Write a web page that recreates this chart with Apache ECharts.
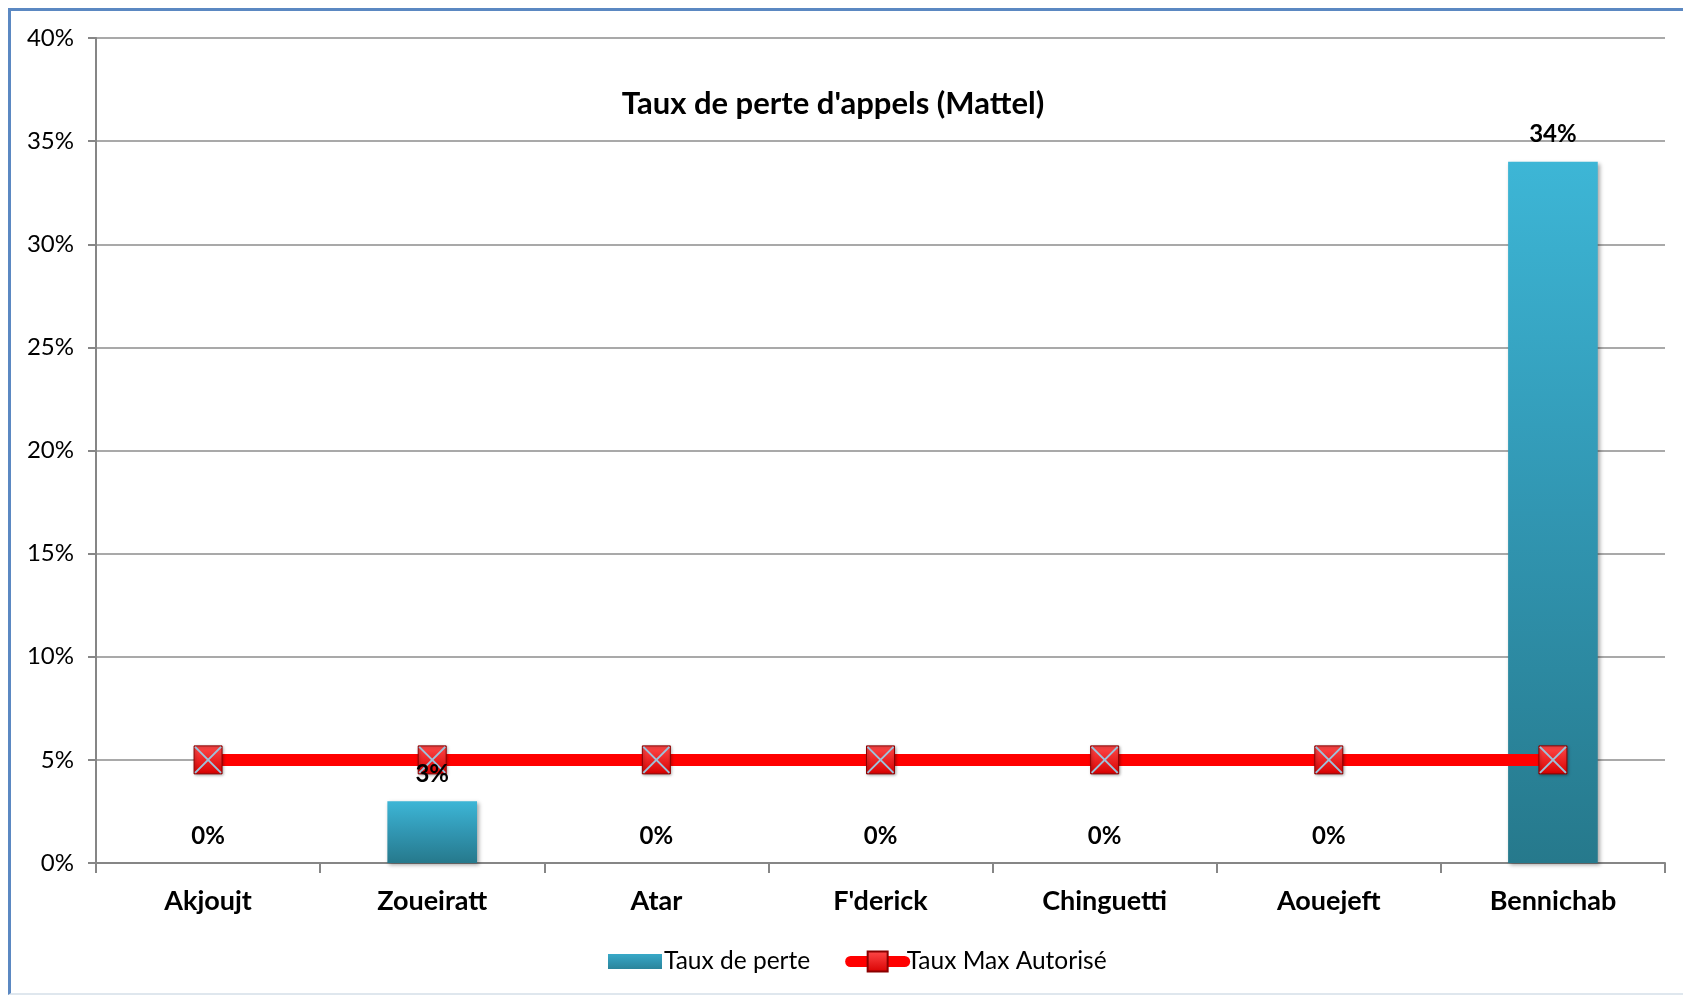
<!DOCTYPE html>
<html>
<head>
<meta charset="utf-8">
<script src="https://cdn.jsdelivr.net/npm/echarts@6/dist/echarts.min.js"></script>
<style>
  html, body { margin: 0; padding: 0; background: #fff; }
  #frame {
    position: absolute; left: 8px; top: 8px; width: 1690px; height: 987px;
    border-left: 3px solid #5b88c2; border-top: 3px solid #5b88c2;
    border-bottom: 2px solid #dfe7ee; box-sizing: border-box;
  }
  #chart { position: absolute; left: 0; top: 0; width: 1683px; height: 998px; }
</style>
</head>
<body>
<div id="frame"></div>
<div id="chart"></div>
<script>
// données
const villes = ['Akjoujt', 'Zoueiratt', 'Atar', "F'derick", 'Chinguetti', 'Aouejeft', 'Bennichab']
const tauxPerte = [0, 3, 0, 0, 0, 0, 34]
const tauxMax = [5, 5, 5, 5, 5, 5, 5]
const yMin = 0, yMax = 40, yStep = 5

const police = 'Lato, "Open Sans", "Noto Sans", sans-serif'

let chart = echarts.init(document.getElementById('chart'))
let option = {
    animation: false,
    textStyle: { fontFamily: police },
    title: {
        text: "Taux de perte d'appels (Mattel)",
        left: 828,
        top: 83,
        textAlign: 'center',
        textStyle: { fontSize: 31, fontWeight: 'bold', color: '#000', fontFamily: police }
    },
    legend: {
        data: [
            // rectangle plus bas que la case de légende
            { name: 'Taux de perte', icon: 'path://M0,0L1,0M0,5L54,5L54,20L0,20ZM0,25L1,25' },
            { name: 'Taux Max Autorisé' }
        ],
        left: 603,
        top: 944,
        itemWidth: 54,
        itemHeight: 25,
        itemGap: 35,
        lineStyle: { width: 11, cap: 'round' },
        textStyle: { fontSize: 24.5, color: '#000', fontFamily: police, padding: [0, 0, 0, -3] }
    },
    grid: { left: 96, right: 18, top: 38, bottom: 135, containLabel: false },
    xAxis: {
        type: 'category',
        data: villes,
        axisLine: { lineStyle: { color: '#868686', width: 2 } },
        axisTick: { show: true, length: 10, lineStyle: { color: '#868686', width: 2 } },
        axisLabel: { color: '#000', fontSize: 27, fontWeight: 'bold', margin: 25, fontFamily: police }
    },
    yAxis: {
        type: 'value',
        min: yMin,
        max: yMax,
        interval: yStep,
        axisLine: { show: true, lineStyle: { color: '#868686', width: 2 } },
        axisTick: { show: true, length: 8, lineStyle: { color: '#868686', width: 2 } },
        axisLabel: { formatter: '{value}%', color: '#000', fontSize: 24, margin: 22, fontFamily: police },
        splitLine: { lineStyle: { color: '#8c8c8c', width: 1.5 } }
    },
    series: [
        {
            name: 'Taux de perte',
            type: 'bar',
            data: tauxPerte,
            barWidth: '40%',
            z: 2,
            itemStyle: {
                color: new echarts.graphic.LinearGradient(0, 0, 0, 1, [
                    { offset: 0, color: '#3db6d6' },
                    { offset: 0.5, color: '#3196b2' },
                    { offset: 1, color: '#26798c' }
                ]),
                borderWidth: 0,
                shadowBlur: 4,
                shadowColor: 'rgba(0,0,0,0.35)',
                shadowOffsetX: 2,
                shadowOffsetY: 2
            }
        },
        {
            name: 'Taux Max Autorisé',
            type: 'line',
            data: tauxMax,
            z: 3,
            symbol: 'rect',
            symbolSize: 28,
            lineStyle: { color: '#ff0000', width: 12 },
            itemStyle: {
                color: new echarts.graphic.LinearGradient(0, 0, 0, 1, [
                    { offset: 0, color: '#ff4a4a' },
                    { offset: 1, color: '#d80000' }
                ]),
                borderColor: '#8a0000',
                borderWidth: 1,
                shadowBlur: 3,
                shadowColor: 'rgba(0,0,0,0.35)',
                shadowOffsetX: 1,
                shadowOffsetY: 1
            }
        },
        {
            // croix du marqueur
            name: 'croix',
            type: 'scatter',
            data: tauxMax,
            z: 4,
            silent: true,
            symbol: 'path://M0,0L10,10M10,0L0,10',
            symbolSize: 26,
            itemStyle: { color: 'rgba(0,0,0,0)', borderColor: '#9cc3dc', borderWidth: 2, opacity: 1 }
        },
        {
            // étiquettes des barres, au-dessus de la ligne
            name: 'etiquettes',
            type: 'bar',
            data: tauxPerte,
            barWidth: '40%',
            barGap: '-100%',
            z: 6,
            silent: true,
            itemStyle: { color: 'rgba(0,0,0,0)', borderWidth: 0 },
            label: {
                show: true,
                position: 'top',
                distance: 15,
                formatter: '{c}%',
                color: '#000',
                opacity: 1,
                fontSize: 24,
                fontWeight: 'bold',
                fontFamily: police
            }
        }
    ]
}
chart.setOption(option)
</script>
</body>
</html>
